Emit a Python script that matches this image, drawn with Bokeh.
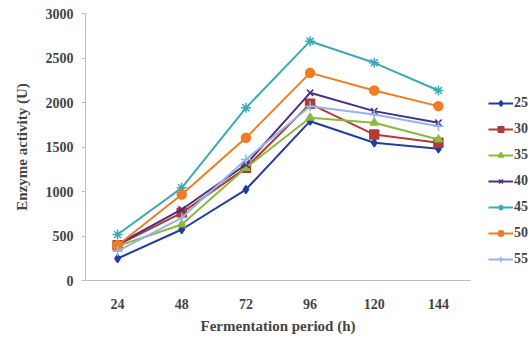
from bokeh.plotting import figure
from bokeh.models import Range1d, Legend, LegendItem, FixedTicker, Title
from bokeh.embed import file_html
from bokeh.resources import INLINE

periods = ["24", "48", "72", "96", "120", "144"]
series_names = ["25", "30", "35", "40", "45", "50", "55"]
s25 = [247, 573, 1022, 1790, 1547, 1479]
s30 = [397, 760, 1266, 1985, 1640, 1547]
s35 = [386, 629, 1266, 1828, 1772, 1584]
s40 = [405, 798, 1303, 2109, 1903, 1772]
s45 = [517, 1041, 1940, 2689, 2446, 2135]
s50 = [397, 966, 1603, 2333, 2135, 1959]
s55 = [330, 704, 1360, 1959, 1865, 1734]
y_ticks = [0, 500, 1000, 1500, 2000, 2500, 3000]

values = [s25, s30, s35, s40, s45, s50, s55]
colors = ["#1F3F9F", "#B23A36", "#8DB83E", "#4B2E83", "#3AAAB8", "#F07C24", "#94B4E4"]
markers = ["diamond", "square", "triangle", "x", "asterisk", "circle", "cross"]
msizes = [8, 9, 8, 9, 10, 9, 10]

FONT = "Liberation Serif"
W, H = 531, 343
LEFT, AXIS_END = 85, 470
n = len(periods)
xpos = [i + 0.5 for i in range(n)]          # category centres
x_max = n * (W - LEFT) / (AXIS_END - LEFT)  # extra room on the right for the legend

p = figure(width=W, height=H, output_backend="svg", toolbar_location=None,
           x_range=Range1d(0, x_max), y_range=Range1d(0, 3000),
           min_border_left=LEFT, min_border_right=0, min_border_top=13, min_border_bottom=63)
p.outline_line_color = None
p.xgrid.grid_line_color = None
p.ygrid.grid_line_color = None

items = []
for name, vals, c, m, s in zip(series_names, values, colors, markers, msizes):
    l = p.line(xpos, vals, line_color=c, line_width=2)
    sc = p.scatter(xpos, vals, marker=m, size=s, fill_color=c, line_color=c, line_width=1.5)
    items.append(LegendItem(label=name, renderers=[l, sc]))

legend = Legend(items=items, location=(AXIS_END - LEFT + 18, 13), border_line_color=None,
                background_fill_alpha=0, label_text_font=FONT, label_text_font_style="bold",
                label_text_font_size="14px", glyph_width=25, glyph_height=14,
                spacing=10, padding=0, margin=0, label_standoff=1,
                label_height=14)
p.add_layout(legend, "center")

for ax in (p.xaxis[0], p.yaxis[0]):
    ax.axis_line_color = "#BBBBBB"
    ax.major_label_text_font = FONT
    ax.major_label_text_font_style = "bold"
    ax.major_label_text_font_size = "14px"
    ax.axis_label_text_font = FONT
    ax.axis_label_text_font_style = "bold"
    ax.axis_label_text_font_size = "15px"
    ax.minor_tick_line_color = None

p.yaxis.ticker = FixedTicker(ticks=y_ticks)
p.yaxis.major_tick_line_color = "#BBBBBB"
p.yaxis.major_tick_in = 0
p.yaxis.major_tick_out = 4
p.yaxis.major_label_standoff = 8
p.yaxis.axis_label = "Enzyme activity (U)"
p.yaxis.axis_label_standoff = 13

p.xaxis.ticker = FixedTicker(ticks=xpos)
p.xaxis.major_label_overrides = {x: lab for x, lab in zip(xpos, periods)}
p.xaxis.bounds = (0, n)
p.xaxis.major_tick_line_color = None
p.xaxis.major_label_standoff = 12

# x title centred under the category axis (not under the whole frame)
xt = Title(text="Fermentation period (h)", align="left", offset=115,
           text_font=FONT, text_font_style="bold", text_font_size="15px",
           standoff=8)
p.add_layout(xt, "below")

open("out.html", "w").write(file_html(p, INLINE))
